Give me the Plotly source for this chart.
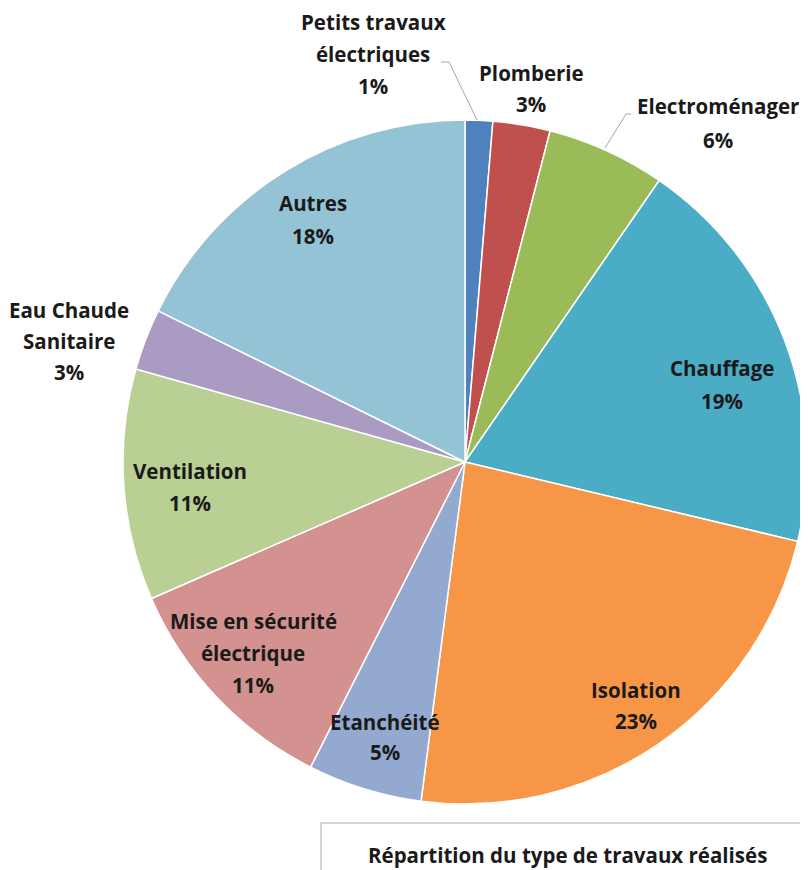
import plotly.graph_objects as go

# The page body adds an 8px offset, so the figure is drawn 8px smaller and shifted.
OFF = 8
W, H = 808 - OFF, 870 - OFF

categories = ["Petits travaux<br>électriques", "Plomberie", "Electroménager", "Chauffage",
              "Isolation", "Etanchéité", "Mise en sécurité<br>électrique", "Ventilation",
              "Eau Chaude<br>Sanitaire", "Autres"]
values = [1.3, 2.7, 5.6, 19.1, 23.3, 5.4, 11.0, 10.9, 2.9, 17.7]
colors = ["#4F81BD", "#C0504D", "#9BBB59", "#4BACC6", "#F79646",
          "#94A9D0", "#D39290", "#B9CF93", "#A99BC2", "#93C3D5"]
title_text = "Répartition du type de travaux réalisés"

# label anchor (center x, first line y) in reference pixels
label_pos = [(373, 22), (531, 73), (718, 106), (722, 368), (636, 690),
             (385, 722), (253, 621), (190, 471), (69, 310), (313, 203)]
line_gap = [32, 31, 34, 33, 31, 30, 32, 32, 31, 33]

def px(x):
    return (x - OFF) / W

def py(y):
    return 1 - (y - OFF) / H

cx, cy, r = 465, 462, 342

fig = go.Figure(go.Pie(
    labels=categories, values=values, sort=False, direction="clockwise", rotation=0,
    marker=dict(colors=colors, line=dict(color="white", width=1.5)),
    textinfo="none", hoverinfo="label+percent", showlegend=False,
    domain=dict(x=[px(cx - r), px(cx + r)], y=[py(cy + r), py(cy - r)]),
))

total = sum(values)
font = dict(family="Open Sans, sans-serif", size=20.5, color="#1a1a1a")
annotations = []
for cat, v, (x, y), g in zip(categories, values, label_pos, line_gap):
    lines = cat.split("<br>") + [f"{round(v / total * 100)}%"]
    for i, ln in enumerate(lines):
        annotations.append(dict(x=px(x), y=py(y + i * g), xref="paper", yref="paper",
                                text=f"<b>{ln}</b>", showarrow=False, font=font,
                                xanchor="center", yanchor="middle"))

annotations.append(dict(x=px(567), y=py(855), xref="paper", yref="paper",
                        text=f"<b>{title_text}</b>", showarrow=False, font=font,
                        xanchor="center", yanchor="middle"))

shapes = [
    dict(type="path", xref="paper", yref="paper",
         path=f"M {px(441)} {py(62)} L {px(449)} {py(62)} L {px(477)} {py(120)}",
         line=dict(color="#A6A6A6", width=1)),
    dict(type="path", xref="paper", yref="paper",
         path=f"M {px(605)} {py(148)} L {px(626)} {py(114)} L {px(631)} {py(114)}",
         line=dict(color="#A6A6A6", width=1)),
    dict(type="path", xref="paper", yref="paper",
         path=f"M {px(321)} {py(875)} L {px(321)} {py(823)} L {px(815)} {py(823)}",
         line=dict(color="#C8C8C8", width=1.5)),
]

fig.update_layout(width=W, height=H, margin=dict(l=0, r=0, t=0, b=0),
                  paper_bgcolor="white", plot_bgcolor="white",
                  annotations=annotations, shapes=shapes)

fig.write_html("out.html")
